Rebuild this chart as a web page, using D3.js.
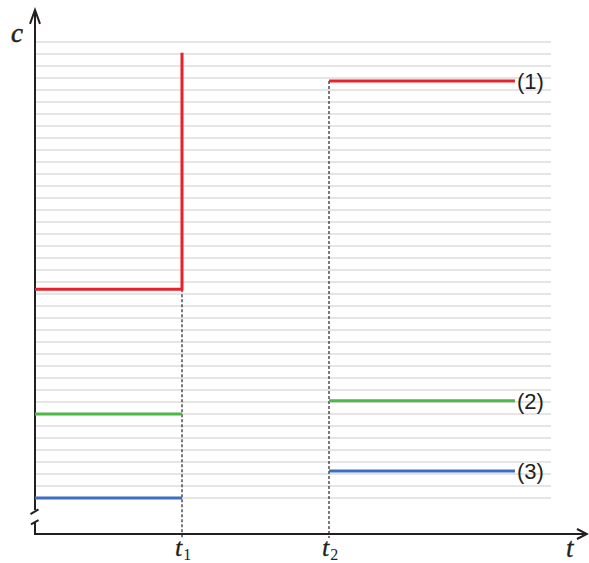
<!DOCTYPE html>
<html>
<head>
<meta charset="utf-8">
<script src="https://cdn.jsdelivr.net/npm/d3@7"></script>
<style>
html,body{margin:0;padding:0;background:#fff;}
svg{display:block;}
.serif{font-family:"Liberation Serif","Times New Roman",serif;}
.sans{font-family:"Liberation Sans",Arial,sans-serif;}
</style>
</head>
<body>
<svg id="chart" width="589" height="563"></svg>
<script>
// ---- data ----
const timeMarks = [0, 1, 2, 3.265];          // t0, t1, t2, end of plotted run
const timeLabels = ["", "1", "2"];           // subscripts of t at t1, t2
const seriesNames = ["(1)", "(2)", "(3)"];
const seriesColors = ["#e8212b", "#4db848", "#3e6fbf"];
const beforeValues = [17.4, 7.0, 0.0];       // level before t1
const spikeValues = [37.1, null, null];      // jump at t1
const afterValues = [34.75, 8.1, 2.25];      // level after t2
const gridValues = d3.range(0, 39, 1);       // light horizontal grid lines

// ---- scales ----
const svg = d3.select("#chart");
const x = d3.scaleLinear().domain([0, 3]).range([35, 476]);
const y = d3.scaleLinear().domain([0, 38]).range([498, 42]);
const axisY = y(-3);        // x-axis baseline
const axisTop = y(40.67);   // y-axis arrow tip
const gridEnd = 3.51;
const arrowEnd = 3.755;

// grid
svg.append("g").selectAll("line").data(gridValues).join("line")
  .attr("x1", x(0) + 1).attr("x2", x(gridEnd))
  .attr("y1", d => y(d)).attr("y2", d => y(d))
  .attr("stroke", "#dcdcdc").attr("stroke-width", 1.4);

// dashed drop lines
const drops = [
  {t: timeMarks[1], v: beforeValues[0]},
  {t: timeMarks[2], v: afterValues[0]}
];
svg.append("g").selectAll("line").data(drops).join("line")
  .attr("x1", d => x(d.t)).attr("x2", d => x(d.t))
  .attr("y1", d => y(d.v)).attr("y2", axisY + 4)
  .attr("stroke", "#222").attr("stroke-width", 1.2)
  .attr("stroke-dasharray", "3,2");

// axes
const ax = svg.append("g").attr("stroke", "#231f20").attr("fill", "none")
  .attr("stroke-width", 2);
const x0 = x(0);
ax.append("line").attr("x1", x0).attr("x2", x0).attr("y1", axisTop + 1).attr("y2", y(-1.0));
ax.append("line").attr("x1", x0 - 4.5).attr("y1", y(-1.35)).attr("x2", x0 + 3.5).attr("y2", y(-0.95));
ax.append("line").attr("x1", x0 - 4).attr("y1", y(-2.2)).attr("x2", x0 + 3.5).attr("y2", y(-1.85));
ax.append("line").attr("x1", x0).attr("x2", x0).attr("y1", y(-2.05)).attr("y2", axisY + 1);
ax.append("line").attr("x1", x0 - 1).attr("x2", x(arrowEnd) - 1).attr("y1", axisY).attr("y2", axisY);
ax.append("path").attr("d", `M${x0 - 5},${axisTop + 14} L${x0},${axisTop} L${x0 + 5},${axisTop + 14}`);
const xe = x(arrowEnd);
ax.append("path").attr("d", `M${xe - 10},${axisY - 5} L${xe},${axisY} L${xe - 10},${axisY + 5}`);

// series lines
const line = d3.line().x(d => x(d[0])).y(d => y(d[1]));
seriesNames.forEach((name, i) => {
  const left = [[timeMarks[0], beforeValues[i]], [timeMarks[1], beforeValues[i]]];
  if (spikeValues[i] != null) left.push([timeMarks[1], spikeValues[i]]);
  svg.append("path").attr("d", line(left))
    .attr("fill", "none").attr("stroke", seriesColors[i]).attr("stroke-width", 3)
    .attr("stroke-linejoin", "miter");
  const right = [[timeMarks[2], afterValues[i]], [timeMarks[3], afterValues[i]]];
  svg.append("path").attr("d", line(right))
    .attr("fill", "none").attr("stroke", seriesColors[i]).attr("stroke-width", 3);
  svg.append("text").attr("class", "sans")
    .attr("x", x(timeMarks[3]) + 2).attr("y", y(afterValues[i]))
    .attr("dy", "0.36em")
    .attr("font-size", 22).attr("fill", "#231f20")
    .text(name);
});

// axis labels
svg.append("text").attr("class", "serif").attr("x", 11).attr("y", 42)
  .attr("font-style", "italic").attr("font-size", 27)
  .attr("fill", "#231f20").attr("stroke", "#231f20").attr("stroke-width", 0.5).text("c");
svg.append("text").attr("class", "serif").attr("x", x(arrowEnd) - 21).attr("y", axisY + 23)
  .attr("font-style", "italic").attr("font-size", 27)
  .attr("fill", "#231f20").attr("stroke", "#231f20").attr("stroke-width", 0.3).text("t");
[1, 2].forEach(k => {
  const tx = svg.append("text").attr("class", "serif")
    .attr("x", x(timeMarks[k]) - 7).attr("y", axisY + 22).attr("fill", "#231f20");
  tx.append("tspan").attr("font-style", "italic").attr("font-size", 26)
    .attr("stroke", "#231f20").attr("stroke-width", 0.3).text("t");
  tx.append("tspan").attr("font-size", 16).attr("dy", 4).attr("dx", 1).text(timeLabels[k]);
});
</script>
</body>
</html>
